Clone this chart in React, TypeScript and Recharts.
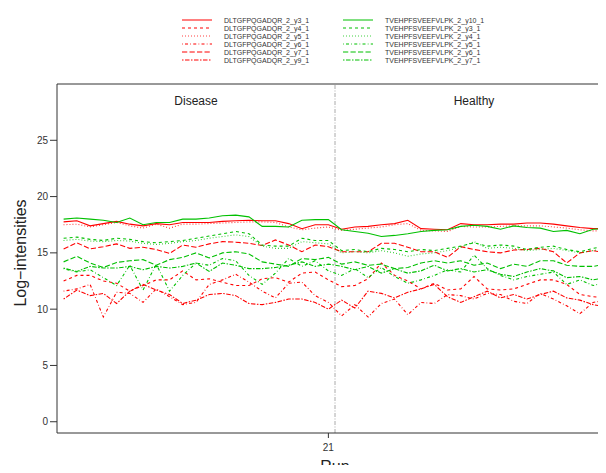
import React from 'react';
import { LineChart, Line, XAxis, YAxis, ReferenceLine, Label } from 'recharts';

// run index, 21 disease + 21 healthy
const runs = [
  1, 2, 3, 4, 5, 6, 7, 8, 9, 10, 11, 12, 13, 14, 15, 16, 17, 18, 19, 20, 21,
  22, 23, 24, 25, 26, 27, 28, 29, 30, 31, 32, 33, 34, 35, 36, 37, 38, 39, 40, 41, 42,
];

// DLTGFPQGADQR_2 transitions (log2 intensities)
const dltgY3 = [17.75, 17.85, 17.4, 17.6, 17.8, 17.55, 17.4, 17.6, 17.5, 17.7, 17.7, 17.7, 17.8, 17.85, 17.9, 17.85, 17.85, 17.6, 17.15, 17.5, 17.5,
  17.1, 17.3, 17.35, 17.5, 17.6, 17.9, 17.15, 17.1, 17.05, 17.6, 17.5, 17.5, 17.55, 17.55, 17.65, 17.65, 17.55, 17.4, 17.25, 17.15, 17.15];
const dltgY4 = [12.5, 13.0, 13.0, 12.5, 12.3, 11.6, 12.1, 12.6, 12.6, 13.4, 12.6, 12.7, 12.4, 12.1, 12.1, 12.7, 12.8, 12.4, 13.2, 13.3, 12.6,
  12.0, 12.1, 12.7, 14.1, 13.0, 12.5, 11.8, 12.3, 11.7, 11.8, 12.9, 11.8, 11.7, 11.8, 12.2, 12.6, 12.6, 12.2, 11.3, 11.1, 11.0];
const dltgY5 = [17.5, 17.55, 17.3, 17.5, 17.7, 17.4, 17.2, 17.55, 17.2, 17.55, 17.55, 17.6, 17.65, 17.7, 17.75, 17.75, 17.7, 17.3, 17.05, 17.2, 17.3,
  17.0, 17.1, 17.2, 17.3, 17.5, 17.6, 17.0, 16.95, 16.9, 17.35, 17.3, 17.3, 17.35, 17.4, 17.4, 17.4, 17.3, 17.2, 17.05, 16.95, 16.95];
const dltgY6 = [11.6, 11.8, 12.2, 9.3, 11.5, 11.4, 10.6, 11.8, 11.1, 10.4, 10.6, 12.2, 12.6, 13.1, 12.4, 11.6, 11.0, 12.3, 12.4, 11.2, 10.6,
  9.4, 10.4, 9.3, 10.5, 10.9, 9.5, 10.6, 10.5, 11.3, 11.2, 10.9, 11.4, 11.3, 10.7, 10.5, 11.4, 10.9, 10.3, 9.6, 10.6, 10.8];
const dltgY7 = [15.35, 15.9, 15.35, 15.55, 15.8, 15.4, 15.5, 15.3, 14.95, 15.7, 15.5, 15.8, 16.0, 15.95, 15.85, 15.65, 16.15, 15.7, 15.1, 15.7, 15.55,
  15.1, 15.1, 15.1, 15.85, 15.85, 15.5, 15.1, 15.1, 14.6, 15.55, 15.3, 15.1, 15.0, 15.25, 15.3, 15.4, 15.1, 14.1, 15.0, 15.2, 15.0];
const dltgY9 = [10.9, 11.7, 11.2, 11.4, 10.5, 11.6, 12.2, 11.7, 11.3, 10.5, 10.8, 11.3, 11.4, 11.2, 10.5, 10.4, 10.6, 10.9, 10.9, 10.6, 10.0,
  10.8, 10.1, 11.6, 11.4, 11.0, 11.5, 11.8, 12.2, 11.1, 10.6, 11.1, 11.6, 11.0, 11.3, 10.9, 11.3, 11.6, 11.0, 10.8, 10.4, 10.2];

// TVEHPFSVEEFVLPK_2 transitions
const tvehY10 = [18.0, 18.1, 18.0, 17.9, 17.7, 18.1, 17.5, 17.7, 17.7, 18.0, 18.0, 18.1, 18.3, 18.35, 18.2, 17.35, 17.35, 17.3, 17.9, 17.95, 17.95,
  17.05, 16.9, 16.75, 16.45, 16.55, 16.7, 16.9, 17.0, 17.05, 17.35, 17.45, 17.35, 17.1, 17.4, 17.25, 17.2, 16.9, 17.0, 16.7, 17.1, 17.15];
const tvehY3 = [16.3, 16.4, 16.2, 16.1, 16.3, 16.2, 16.0, 15.9, 16.0, 16.1, 16.3, 16.5, 16.7, 16.9, 16.7, 15.7, 15.6, 15.6, 16.3, 16.1, 16.1,
  15.2, 15.3, 15.1, 15.4, 15.3, 15.1, 15.3, 15.2, 15.4, 15.6, 15.9, 15.6, 15.7, 15.6, 15.3, 15.5, 15.6, 15.3, 15.1, 15.4, 15.6];
const tvehY4 = [16.1, 16.2, 16.05, 16.0, 16.1, 16.05, 15.85, 15.75, 15.85, 16.0, 16.1, 16.3, 16.45, 16.6, 16.45, 15.6, 15.4, 15.4, 16.0, 15.9, 15.8,
  15.0, 15.1, 15.0, 15.2, 15.0, 14.7, 14.9, 15.0, 15.2, 15.5, 16.0, 15.4, 15.5, 15.4, 15.2, 15.3, 15.4, 15.2, 15.0, 15.2, 15.4];
const tvehY5 = [13.6, 13.3, 13.5, 12.8, 12.1, 13.9, 11.7, 14.0, 11.6, 13.0, 14.1, 13.9, 14.5, 14.3, 13.0, 12.2, 13.2, 14.5, 13.8, 14.3, 13.4,
  13.0, 13.6, 12.8, 13.7, 12.9, 12.3, 12.6, 13.0, 13.5, 13.3, 14.8, 13.6, 13.0, 12.6, 12.9, 13.1, 13.3, 12.2, 12.6, 12.1, 12.4];
const tvehY6 = [14.2, 14.7, 14.1, 13.7, 14.15, 14.3, 14.4, 13.9, 14.4, 14.6, 15.0, 14.55, 15.0, 15.1, 14.9, 14.2, 14.0, 13.8, 14.5, 14.4, 14.6,
  14.0, 14.2, 13.9, 14.0, 13.6, 13.7, 14.1, 14.3, 14.1, 14.3, 13.9, 14.1, 13.6, 14.0, 13.8, 14.3, 14.3, 13.9, 13.8, 13.8, 14.0];
const tvehY7 = [13.65, 13.35, 13.8, 13.65, 13.65, 13.8, 13.5, 13.8, 13.65, 13.8, 14.1, 13.35, 14.1, 13.9, 13.6, 13.6, 13.7, 13.9, 14.2, 13.8, 14.0,
  13.8, 13.5, 13.8, 13.2, 13.6, 13.2, 13.4, 13.9, 13.4, 13.6, 13.3, 13.5, 13.1, 12.9, 13.3, 13.6, 13.4, 12.8, 12.9, 12.6, 12.8];

const yTicks = [0, 5, 10, 15, 20, 25];
const xTicks = [21, 42];

const RED = '#ff0000';
const GREEN = '#00c000';

// R line types at lwd = 1
const LTY = {
  solid: undefined,
  dashed: '3 3',
  dotted: '0.75 2.25',
  dotdash: '0.75 2.25 3 2.25',
  longdash: '5.25 2.25',
  twodash: '1.5 1.5 4.5 1.5',
};

const series = [
  { key: 'd3', name: 'DLTGFPQGADQR_2_y3_1', values: dltgY3, color: RED, dash: LTY.solid },
  { key: 'd4', name: 'DLTGFPQGADQR_2_y4_1', values: dltgY4, color: RED, dash: LTY.dashed },
  { key: 'd5', name: 'DLTGFPQGADQR_2_y5_1', values: dltgY5, color: RED, dash: LTY.dotted },
  { key: 'd6', name: 'DLTGFPQGADQR_2_y6_1', values: dltgY6, color: RED, dash: LTY.dotdash },
  { key: 'd7', name: 'DLTGFPQGADQR_2_y7_1', values: dltgY7, color: RED, dash: LTY.longdash },
  { key: 'd9', name: 'DLTGFPQGADQR_2_y9_1', values: dltgY9, color: RED, dash: LTY.twodash },
  { key: 't10', name: 'TVEHPFSVEEFVLPK_2_y10_1', values: tvehY10, color: GREEN, dash: LTY.solid },
  { key: 't3', name: 'TVEHPFSVEEFVLPK_2_y3_1', values: tvehY3, color: GREEN, dash: LTY.dashed },
  { key: 't4', name: 'TVEHPFSVEEFVLPK_2_y4_1', values: tvehY4, color: GREEN, dash: LTY.dotted },
  { key: 't5', name: 'TVEHPFSVEEFVLPK_2_y5_1', values: tvehY5, color: GREEN, dash: LTY.dotdash },
  { key: 't6', name: 'TVEHPFSVEEFVLPK_2_y6_1', values: tvehY6, color: GREEN, dash: LTY.longdash },
  { key: 't7', name: 'TVEHPFSVEEFVLPK_2_y7_1', values: tvehY7, color: GREEN, dash: LTY.twodash },
];

const data = runs.map((run, i) => {
  const row: Record<string, number> = { run };
  series.forEach((s) => {
    row[s.key] = s.values[i];
  });
  return row;
});

const FONT = '"Liberation Sans", Arial, Helvetica, sans-serif';

// run tick label; the last one runs past the right edge
const RunTick = (props: any) => (
  <text x={props.x} y={props.y} dy="0.71em" textAnchor="middle" fontSize={10} fill="#333">
    {props.payload.value}
  </text>
);

// two-column key above the panel, one column per peptide
const LegendBox = () => (
  <svg width={606} height={70} style={{ position: 'absolute', left: 0, top: 0, fontFamily: FONT }}>
    {series.map((s, i) => {
      const x0 = i < 6 ? 182 : 343;
      const y = 20 + (i % 6) * 8;
      return (
        <g key={s.key}>
          <line x1={x0} x2={x0 + 30} y1={y} y2={y} stroke={s.color} strokeWidth={1} strokeDasharray={s.dash} />
          <text x={x0 + 42} y={y} fontSize={7} fill="#333" dominantBaseline="central">
            {s.name}
          </text>
        </g>
      );
    })}
  </svg>
);

export default function App() {
  return (
    <div style={{ position: 'relative', width: 606, height: 473, overflow: 'hidden', margin: -8, background: '#fff' }}>
      <LineChart
        width={638}
        height={473}
        data={data}
        margin={{ top: 84, right: 25, bottom: 0, left: 0 }}
        style={{ position: 'absolute', left: 0, top: 0, fontFamily: FONT }}
      >
        <XAxis
          dataKey="run"
          type="number"
          domain={[0.5, 42.5]}
          ticks={xTicks}
          interval={0}
          height={40}
          tickSize={5}
          tickMargin={6}
          stroke="#333"
          tick={<RunTick />}
        >
          <Label value="Run" position="insideBottom" offset={1} fontSize={16} fill="#222" />
        </XAxis>
        <YAxis
          type="number"
          domain={[-1, 30]}
          ticks={yTicks}
          width={57}
          tickSize={7}
          stroke="#333"
          tick={{ fill: '#333', fontSize: 10 }}
        >
          <Label
            content={() => (
              <text
                x={20}
                y={253}
                transform="rotate(-90, 20, 253)"
                textAnchor="middle"
                dominantBaseline="central"
                fontSize={16}
                fill="#222"
              >
                Log−intensities
              </text>
            )}
          />
        </YAxis>
        <ReferenceLine y={30} stroke="#333" />
        <ReferenceLine x={21.5} stroke="#aaa" strokeDasharray="4 1.5 1 1.5" />
        <ReferenceLine
          x={11}
          stroke="none"
          label={{ value: 'Disease', position: 'insideTop', offset: 12, fontSize: 12, fill: '#222' }}
        />
        <ReferenceLine
          x={32}
          stroke="none"
          label={{ value: 'Healthy', position: 'insideTop', offset: 12, fontSize: 12, fill: '#222' }}
        />
        {series.map((s) => (
          <Line
            key={s.key}
            type="linear"
            dataKey={s.key}
            name={s.name}
            stroke={s.color}
            strokeWidth={1.1}
            strokeDasharray={s.dash}
            dot={false}
            activeDot={false}
            isAnimationActive={false}
          />
        ))}
      </LineChart>
      <LegendBox />
    </div>
  );
}
